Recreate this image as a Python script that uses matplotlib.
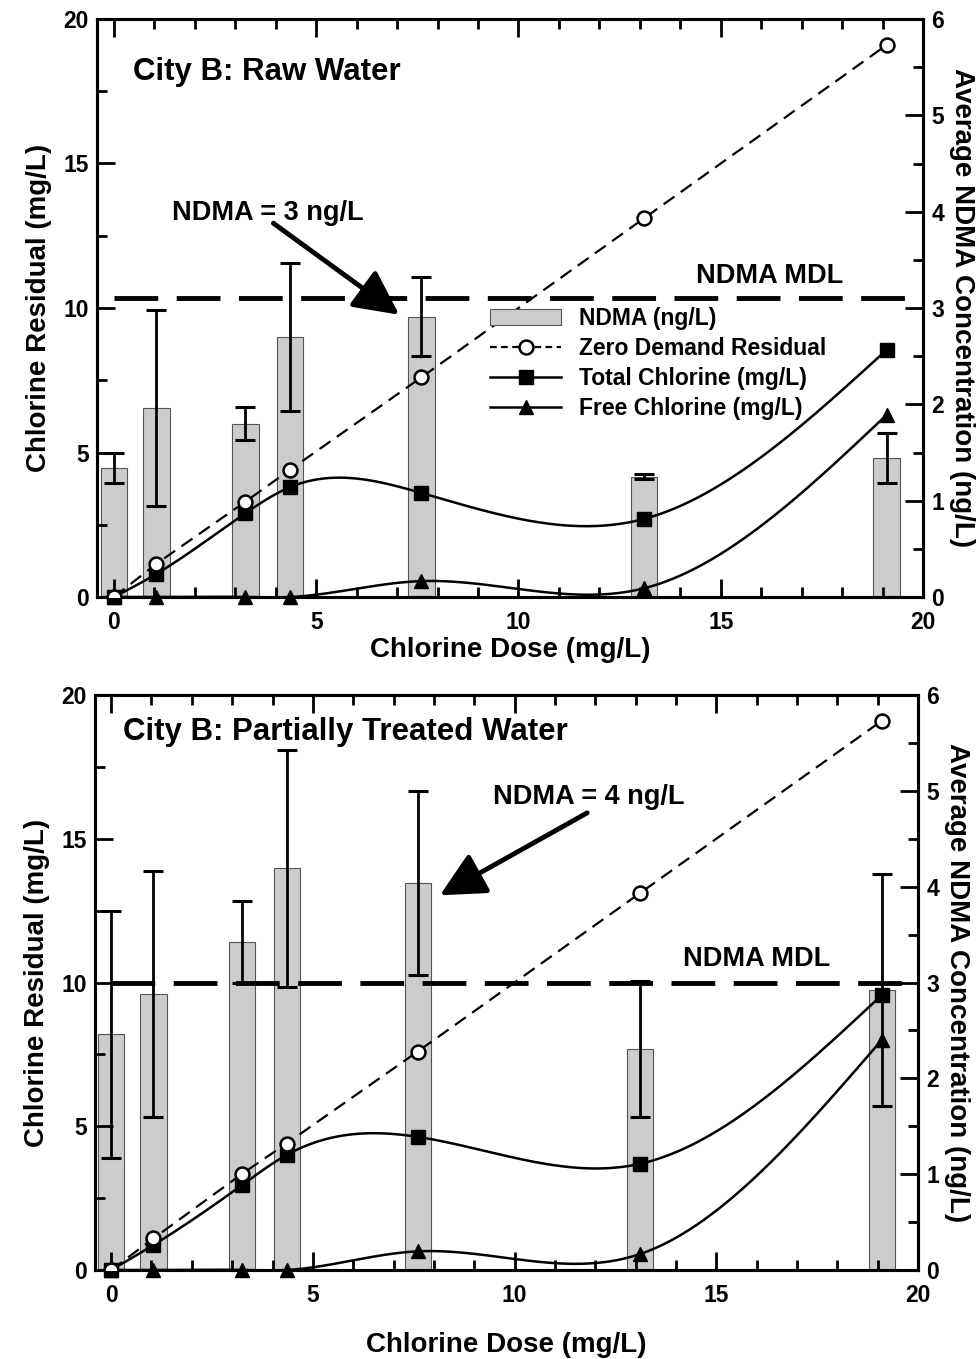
import numpy as np
import matplotlib
matplotlib.use('Agg')
import matplotlib.pyplot as plt
from matplotlib.patches import Patch
from matplotlib.lines import Line2D
from matplotlib.ticker import MultipleLocator

plt.rcParams['font.family'] = ['Liberation Sans', 'DejaVu Sans']
plt.rcParams['font.weight'] = 'bold'

# ---- data ----
dose = [0, 1.05, 3.25, 4.35, 7.6, 13.1, 19.1]

raw_zero_demand = [0, 1.15, 3.3, 4.4, 7.6, 13.1, 19.1]
raw_total = [0, 0.8, 2.9, 3.8, 3.6, 2.7, 8.55]
raw_free = [0, 0, 0, 0, 0.55, 0.3, 6.3]
raw_ndma = [1.34, 1.96, 1.80, 2.70, 2.91, 1.25, 1.44]
raw_ndma_err = [0.16, 1.02, 0.17, 0.77, 0.41, 0.03, 0.26]
raw_mdl = 3.1

pt_zero_demand = [0, 1.1, 3.35, 4.4, 7.6, 13.1, 19.1]
pt_total = [0, 0.87, 2.96, 4.0, 4.63, 3.69, 9.56]
pt_free = [0, 0, 0, 0, 0.65, 0.55, 8.0]
pt_ndma = [2.46, 2.88, 3.42, 4.19, 4.04, 2.31, 2.92]
pt_ndma_err = [1.29, 1.28, 0.43, 1.24, 0.96, 0.71, 1.21]
pt_mdl = 3.0


def natural_spline(x, y, xs):
    """Natural cubic spline through (x, y), evaluated at xs."""
    x = np.asarray(x, float)
    y = np.asarray(y, float)
    n = len(x)
    h = np.diff(x)
    A = np.zeros((n, n))
    b = np.zeros(n)
    A[0, 0] = A[-1, -1] = 1
    for i in range(1, n - 1):
        A[i, i - 1] = h[i - 1]
        A[i, i] = 2 * (h[i - 1] + h[i])
        A[i, i + 1] = h[i]
        b[i] = 3 * ((y[i + 1] - y[i]) / h[i] - (y[i] - y[i - 1]) / h[i - 1])
    c = np.linalg.solve(A, b)
    bb = (y[1:] - y[:-1]) / h - h * (2 * c[:-1] + c[1:]) / 3
    d = (c[1:] - c[:-1]) / (3 * h)
    idx = np.clip(np.searchsorted(x, xs) - 1, 0, n - 2)
    t = xs - x[idx]
    return y[idx] + bb[idx] * t + c[idx] * t ** 2 + d[idx] * t ** 3


def style_axes(ax, axr, xmin):
    ax.set_xlim(xmin, 20)
    ax.set_ylim(0, 20)
    axr.set_ylim(0, 6)
    ax.xaxis.set_major_locator(MultipleLocator(5))
    ax.xaxis.set_minor_locator(MultipleLocator(1))
    ax.yaxis.set_major_locator(MultipleLocator(5))
    ax.yaxis.set_minor_locator(MultipleLocator(2.5))
    axr.yaxis.set_major_locator(MultipleLocator(1))
    axr.yaxis.set_minor_locator(MultipleLocator(0.5))
    ax.tick_params(axis='x', which='both', direction='in', top=True, bottom=True,
                   width=2, labelsize=16.5, pad=10)
    ax.tick_params(axis='y', which='both', direction='in', left=True, right=False,
                   width=2, labelsize=16.5, pad=6)
    axr.tick_params(axis='y', which='both', direction='in', right=True,
                    width=2, labelsize=16.5, pad=6)
    for a in (ax, axr):
        a.tick_params(which='major', length=13)
        a.tick_params(which='minor', length=7)
        for s in a.spines.values():
            s.set_linewidth(2.2)
    for lab in ax.get_xticklabels() + ax.get_yticklabels() + axr.get_yticklabels():
        lab.set_fontweight('bold')
    ax.set_ylabel('Chlorine Residual (mg/L)', fontsize=20, fontweight='bold', labelpad=8)
    axr.set_ylabel('Average NDMA Concentration (ng/L)', fontsize=20, fontweight='bold',
                   rotation=270, labelpad=22)


def draw_panel(ax, axr, zero, total, free, ndma, err, mdl):
    axr.bar(dose, ndma, width=0.65, color='#cccccc', edgecolor='#555555', linewidth=0.8,
            zorder=1)
    axr.errorbar(dose, ndma, yerr=err, fmt='none', ecolor='black', elinewidth=2,
                 capsize=7.5, capthick=2.2, zorder=2)
    axr.axhline(mdl, xmin=0.02, xmax=0.985, color='black', linewidth=3.5,
                dashes=(9, 3.8), zorder=3)

    xs = np.linspace(0, dose[-1], 400)
    ax.plot(dose, zero, color='black', linewidth=1.6, dashes=(6, 3.5), zorder=4)
    ax.plot(xs, natural_spline(dose, total, xs), color='black', linewidth=1.8, zorder=4)
    ax.plot(xs, natural_spline(dose, free, xs), color='black', linewidth=1.8, zorder=4)
    ax.plot(dose, zero, 'o', ms=10, mfc='white', mec='black', mew=1.8, zorder=6)
    ax.plot(dose, total, 's', ms=9.5, color='black', zorder=5, clip_on=False)
    ax.plot(dose, free, '^', ms=10, color='black', zorder=5, clip_on=False)


arrow_style = dict(arrowstyle='-|>,head_length=1.1,head_width=0.55', lw=3.5,
                   color='black', mutation_scale=25, shrinkA=0, shrinkB=0)

fig = plt.figure(figsize=(9.8, 13.59), dpi=100)

# ---- top: raw water ----
ax1 = fig.add_axes([97 / 980, 1 - 597 / 1359, 826 / 980, 578 / 1359])
ax1r = ax1.twinx()
ax1.set_zorder(ax1r.get_zorder() + 1)
ax1.patch.set_visible(False)
draw_panel(ax1, ax1r, raw_zero_demand, raw_total, raw_free, raw_ndma, raw_ndma_err, raw_mdl)
style_axes(ax1, ax1r, -0.42)
ax1.set_xlabel('Chlorine Dose (mg/L)', fontsize=20, fontweight='bold', labelpad=2)
ax1.text(0.47, 17.9, 'City B: Raw Water', fontsize=22.5, fontweight='bold')
ax1r.text(16.2, 3.33, 'NDMA MDL', fontsize=19.5, fontweight='bold', ha='center', va='center')
ax1r.text(3.8, 3.99, 'NDMA = 3 ng/L', fontsize=19.5, fontweight='bold', ha='center', va='center')
ax1r.annotate('', xy=(7.05, 2.93), xytext=(3.94, 3.88), arrowprops=arrow_style)

handles = [
    Patch(facecolor='#cccccc', edgecolor='#555555', linewidth=0.8),
    Line2D([], [], color='black', linewidth=1.6, dashes=(3, 2), marker='o', ms=10,
           mfc='white', mec='black', mew=1.8),
    Line2D([], [], color='black', linewidth=1.8, marker='s', ms=9.5),
    Line2D([], [], color='black', linewidth=1.8, marker='^', ms=10),
]
labels = ['NDMA (ng/L)', 'Zero Demand Residual', 'Total Chlorine (mg/L)', 'Free Chlorine (mg/L)']
leg = ax1.legend(handles, labels, loc='upper left', bbox_to_anchor=(490 / 980, 1 - 307 / 1359),
                 bbox_transform=fig.transFigure, frameon=False,
                 handlelength=3.1, handletextpad=0.8, labelspacing=0.3, borderpad=0,
                 borderaxespad=0, prop={'weight': 'bold', 'size': 16.5})

# ---- bottom: partially treated water ----
ax2 = fig.add_axes([95 / 980, 1 - 1270 / 1359, 823 / 980, 575 / 1359])
ax2r = ax2.twinx()
ax2.set_zorder(ax2r.get_zorder() + 1)
ax2.patch.set_visible(False)
draw_panel(ax2, ax2r, pt_zero_demand, pt_total, pt_free, pt_ndma, pt_ndma_err, pt_mdl)
style_axes(ax2, ax2r, -0.4)
ax2.set_xlabel('Chlorine Dose (mg/L)', fontsize=20, fontweight='bold', labelpad=18)
ax2.text(0.3, 18.43, 'City B: Partially Treated Water', fontsize=22.5, fontweight='bold')
ax2r.text(16.0, 3.24, 'NDMA MDL', fontsize=19.5, fontweight='bold', ha='center', va='center')
ax2r.text(11.85, 4.94, 'NDMA = 4 ng/L', fontsize=19.5, fontweight='bold', ha='center', va='center')
ax2r.annotate('', xy=(8.15, 3.91), xytext=(11.8, 4.77), arrowprops=arrow_style)

fig.savefig('out.png', dpi=100)
